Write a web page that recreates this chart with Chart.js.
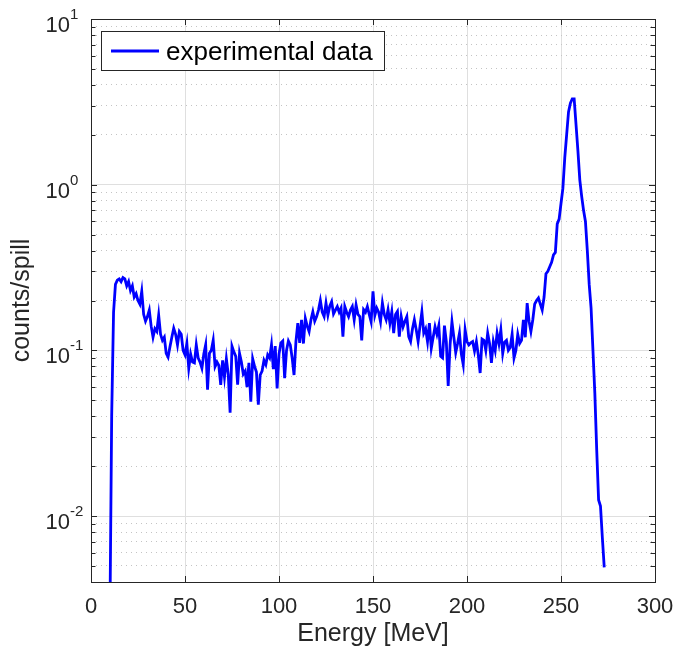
<!DOCTYPE html>
<html>
<head>
<meta charset="utf-8">
<title>Energy spectrum</title>
<script src="https://cdn.jsdelivr.net/npm/chart.js@4.4.1/dist/chart.umd.min.js"></script>
<style>
    html, body { margin: 0; padding: 0; background: #ffffff; }
    #wrap { width: 674px; height: 650px; }
</style>
</head>
<body>
<div id="wrap"><canvas id="spectrumChart" width="674" height="650"></canvas></div>
<script>
// Energy spectrum, counts per spill on a log axis

const energies = [
    10, 11, 12, 13, 14, 15, 16, 17, 18, 19, 20, 21, 22, 23, 24, 25, 26, 27, 28, 29,
    30, 31, 32, 33, 34, 35, 36, 37, 38, 39, 40, 41, 42, 43, 44, 45, 46, 47, 48, 49,
    50, 51, 52, 53, 54, 55, 56, 57, 58, 59, 60, 61, 62, 63, 64, 65, 66, 67, 68, 69,
    70, 71, 72, 73, 74, 75, 76, 77, 78, 79, 80, 81, 82, 83, 84, 85, 86, 87, 88, 89,
    90, 91, 92, 93, 94, 95, 96, 97, 98, 99, 100, 101, 102, 103, 104, 105, 106, 107, 108, 109,
    110, 111, 112, 113, 114, 115, 116, 117, 118, 119, 120, 121, 122, 123, 124, 125, 126, 127, 128, 129,
    130, 131, 132, 133, 134, 135, 136, 137, 138, 139, 140, 141, 142, 143, 144, 145, 146, 147, 148, 149,
    150, 151, 152, 153, 154, 155, 156, 157, 158, 159, 160, 161, 162, 163, 164, 165, 166, 167, 168, 169,
    170, 171, 172, 173, 174, 175, 176, 177, 178, 179, 180, 181, 182, 183, 184, 185, 186, 187, 188, 189,
    190, 191, 192, 193, 194, 195, 196, 197, 198, 199, 200, 201, 202, 203, 204, 205, 206, 207, 208, 209,
    210, 211, 212, 213, 214, 215, 216, 217, 218, 219, 220, 221, 222, 223, 224, 225, 226, 227, 228, 229,
    230, 231, 232, 233, 234, 235, 236, 237, 238, 239, 240, 241, 242, 243, 244, 245, 246, 247, 248, 249,
    250, 251, 252, 253, 254, 255, 256, 257, 258, 259, 260, 261, 262, 263, 264, 265, 266, 267, 268, 269,
    270, 271, 272, 273
];

const countsPerSpill = [
    0.002, 0.04, 0.17, 0.25, 0.265, 0.27, 0.26, 0.275, 0.27, 0.245, 0.26, 0.23, 0.245, 0.21, 0.22, 0.2, 0.19, 0.227, 0.165, 0.15,
    0.16, 0.175, 0.14, 0.12, 0.135, 0.13, 0.163, 0.125, 0.115, 0.12, 0.096, 0.091, 0.105, 0.12, 0.136, 0.125, 0.108, 0.13, 0.125, 0.1,
    0.094, 0.11, 0.078, 0.095, 0.085, 0.084, 0.108, 0.09, 0.085, 0.078, 0.095, 0.108, 0.058, 0.096, 0.1, 0.115, 0.08, 0.085, 0.081, 0.062,
    0.087, 0.069, 0.089, 0.072, 0.042, 0.106, 0.098, 0.092, 0.062, 0.096, 0.085, 0.072, 0.075, 0.06, 0.084, 0.049, 0.089, 0.08, 0.074, 0.047,
    0.071, 0.075, 0.087, 0.082, 0.094, 0.09, 0.108, 0.077, 0.106, 0.059, 0.095, 0.111, 0.114, 0.068, 0.1, 0.114, 0.108, 0.09, 0.071, 0.113,
    0.146, 0.111, 0.153, 0.11, 0.156, 0.14, 0.13, 0.153, 0.171, 0.15, 0.16, 0.175, 0.2, 0.17, 0.16, 0.193, 0.163, 0.185, 0.197, 0.166,
    0.175, 0.184, 0.17, 0.18, 0.121, 0.184, 0.17, 0.16, 0.175, 0.184, 0.153, 0.188, 0.165, 0.16, 0.115, 0.176, 0.17, 0.184, 0.165, 0.149,
    0.227, 0.163, 0.18, 0.17, 0.149, 0.193, 0.165, 0.153, 0.176, 0.146, 0.171, 0.127, 0.165, 0.172, 0.121, 0.16, 0.139, 0.15, 0.16, 0.121,
    0.113, 0.135, 0.153, 0.133, 0.113, 0.14, 0.171, 0.127, 0.135, 0.113, 0.146, 0.103, 0.12, 0.139, 0.125, 0.141, 0.092, 0.09, 0.141, 0.113,
    0.061, 0.108, 0.149, 0.12, 0.097, 0.11, 0.127, 0.095, 0.082, 0.133, 0.113, 0.108, 0.111, 0.113, 0.099, 0.113, 0.094, 0.073, 0.117, 0.115,
    0.1, 0.127, 0.11, 0.084, 0.113, 0.1, 0.127, 0.11, 0.133, 0.096, 0.112, 0.115, 0.1, 0.104, 0.125, 0.09, 0.1, 0.125, 0.11, 0.115,
    0.153, 0.12, 0.193, 0.15, 0.13, 0.153, 0.19, 0.2, 0.207, 0.19, 0.175, 0.21, 0.29, 0.3, 0.32, 0.34, 0.377, 0.39, 0.58, 0.62,
    0.77, 0.95, 1.45, 2.0, 2.75, 3.1, 3.3, 3.3, 2.3, 1.6, 1.07, 0.85, 0.7, 0.6, 0.4, 0.25, 0.18, 0.1, 0.055, 0.025,
    0.0125, 0.0115, 0.0074, 0.0049
];

const xTickValues = [0, 50, 100, 150, 200, 250, 300];
const yTickValues = [
    0.005, 0.006, 0.007, 0.008, 0.009,
    0.01, 0.02, 0.03, 0.04, 0.05, 0.06, 0.07, 0.08, 0.09,
    0.1, 0.2, 0.3, 0.4, 0.5, 0.6, 0.7, 0.8, 0.9,
    1, 2, 3, 4, 5, 6, 7, 8, 9, 10
];
const yDecadeLabels = [{ base: '10', exp: '-2', value: 0.01 }, { base: '10', exp: '-1', value: 0.1 },
    { base: '10', exp: '0', value: 1 }, { base: '10', exp: '1', value: 10 }];

const axisColor = '#262626';
const majorGrid = '#dfdfdf';
const minorGrid = '#c4c4c4';
const fontFamily = '"Liberation Sans", Arial, Helvetica, sans-serif';

function isDecade(v) {
    const l = Math.log10(v);
    return Math.abs(l - Math.round(l)) < 1e-9;
}

// box, inward ticks, tick labels, axis titles and legend in MATLAB style
const matlabFrame = {
    id: 'matlabFrame',
    afterDraw(chart) {
        const { ctx, chartArea: a, scales: { x, y } } = chart;
        ctx.save();
        ctx.strokeStyle = axisColor;
        ctx.lineWidth = 1;

        ctx.beginPath();
        for (const v of xTickValues) {
            const px = Math.round(x.getPixelForValue(v)) + 0.5;
            ctx.moveTo(px, a.bottom); ctx.lineTo(px, a.bottom - 6);
            ctx.moveTo(px, a.top); ctx.lineTo(px, a.top + 6);
        }
        for (const v of yTickValues) {
            const py = Math.round(y.getPixelForValue(v)) + 0.5;
            const len = isDecade(v) ? 6 : 4.5;
            ctx.moveTo(a.left, py); ctx.lineTo(a.left + len, py);
            ctx.moveTo(a.right, py); ctx.lineTo(a.right - len, py);
        }
        ctx.stroke();
        ctx.strokeRect(Math.round(a.left) + 0.5, Math.round(a.top) + 0.5,
            Math.round(a.right - a.left), Math.round(a.bottom - a.top));

        ctx.fillStyle = axisColor;
        ctx.font = `22px ${fontFamily}`;
        ctx.textAlign = 'center';
        ctx.textBaseline = 'alphabetic';
        for (const v of xTickValues) {
            ctx.fillText(String(v), x.getPixelForValue(v), a.bottom + 31);
        }

        for (const d of yDecadeLabels) {
            const py = y.getPixelForValue(d.value);
            ctx.font = `15px ${fontFamily}`;
            ctx.textAlign = 'left';
            ctx.fillText(d.exp, a.left - 21, py);
            ctx.font = `22px ${fontFamily}`;
            ctx.textAlign = 'right';
            ctx.fillText(d.base, a.left - 21, py + 13);
        }

        ctx.font = `25px ${fontFamily}`;
        ctx.textAlign = 'center';
        ctx.fillText('Energy [MeV]', (a.left + a.right) / 2, 641);
        ctx.save();
        ctx.translate(29, (a.top + a.bottom) / 2);
        ctx.rotate(-Math.PI / 2);
        ctx.fillText('counts/spill', 0, 0);
        ctx.restore();

        const ds = chart.data.datasets[0];
        ctx.fillStyle = '#ffffff';
        ctx.fillRect(101.5, 31.5, 283, 39);
        ctx.strokeRect(101.5, 31.5, 283, 39);
        ctx.strokeStyle = ds.borderColor;
        ctx.lineWidth = ds.borderWidth;
        ctx.beginPath();
        ctx.moveTo(111, 51); ctx.lineTo(159, 51);
        ctx.stroke();
        ctx.fillStyle = '#000000';
        ctx.font = `26px ${fontFamily}`;
        ctx.textAlign = 'left';
        ctx.fillText(ds.label, 166, 59.5);
        ctx.restore();
    }
};

const ctx = document.getElementById('spectrumChart');
new Chart(ctx, {
    type: 'line',
    data: {
        datasets: [{
            label: 'experimental data',
            data: energies.map((e, i) => ({ x: e, y: countsPerSpill[i] })),
            borderColor: '#0000ff',
            borderWidth: 2.8,
            pointRadius: 0,
            tension: 0,
            fill: false
        }]
    },
    options: {
        responsive: false,
        animation: false,
        layout: { padding: { left: 91, right: 19, top: 19, bottom: 68 } },
        plugins: {
            legend: { display: false },
            tooltip: { enabled: false }
        },
        scales: {
            x: {
                type: 'linear',
                min: 0,
                max: 300,
                ticks: { display: false, stepSize: 50 },
                grid: { color: majorGrid, drawTicks: false },
                border: { display: false }
            },
            y: {
                type: 'logarithmic',
                min: 0.004,
                max: 10,
                afterBuildTicks: scale => {
                    scale.ticks = yTickValues.map(v => ({ value: v, major: isDecade(v) }));
                },
                ticks: { display: false },
                grid: {
                    drawTicks: false,
                    color: c => (c.tick && isDecade(c.tick.value)) ? majorGrid : minorGrid
                },
                border: {
                    display: false,
                    dash: c => (c.tick && !isDecade(c.tick.value)) ? [1, 4] : []
                }
            }
        }
    },
    plugins: [matlabFrame]
});
</script>
</body>
</html>
